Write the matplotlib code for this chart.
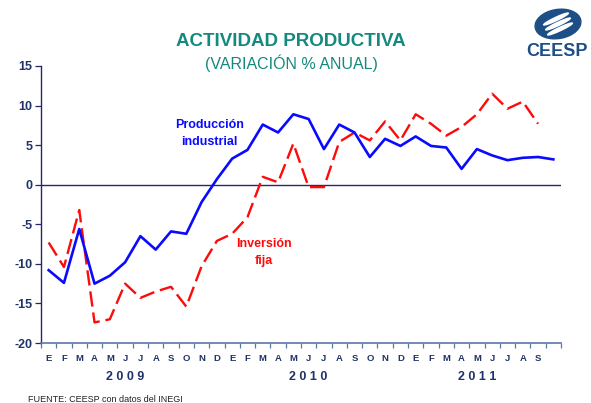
import matplotlib

matplotlib.use("Agg")

import matplotlib.pyplot as plt
import matplotlib.transforms as mtransforms
from matplotlib.patches import Ellipse
import numpy as np

plt.rcParams["font.family"] = ["Liberation Sans", "DejaVu Sans"]
plt.rcParams["axes.unicode_minus"] = False


MONTH_LABELS = (
    ["E", "F", "M", "A", "M", "J", "J", "A", "S", "O", "N", "D"] * 2
    + ["E", "F", "M", "A", "M", "J", "J", "A", "S", ""]
)
YEARS = ["2 0 0 9", "2 0 1 0", "2 0 1 1"]
YEAR_POS = [5.5, 17.5, 28.5]

# Producción industrial, ene-2009 .. oct-2011
produccion = [
    -10.8, -12.4, -5.6, -12.5, -11.5, -9.8, -6.5, -8.2, -5.9, -6.2, -2.2, 0.7,
    3.3, 4.4, 7.6, 6.6, 8.9, 8.3, 4.5, 7.6, 6.6, 3.5, 5.8, 4.9,
    6.1, 4.9, 4.7, 2.0, 4.5, 3.7, 3.1, 3.4, 3.5, 3.2,
]
# Inversión fija, ene-2009 .. sep-2011
inversion = [
    -7.3, -10.4, -3.2, -17.4, -17.0, -12.5, -14.3, -13.5, -12.9, -15.4, -10.3, -7.1,
    -6.2, -4.1, 1.0, 0.3, 5.2, -0.3, -0.3, 5.4, 6.6, 5.6, 8.0, 5.6,
    8.9, 7.7, 6.2, 7.3, 8.9, 11.5, 9.6, 10.5, 7.7,
]

NAVY = "#1f3366"
TEAL = "#14897f"

fig = plt.figure(figsize=(5.91, 4.03), dpi=100)
ax = fig.add_axes([41 / 591, 1 - 343 / 403, 520 / 591, 277 / 403])

x_prod = np.arange(len(produccion)) + 0.5
x_inv = np.arange(len(inversion)) + 0.5

ax.axhline(0, color="#26266e", lw=1.0, zorder=1)
ax.plot(x_prod, produccion, color="#0a0aff", lw=1.9, zorder=3)
ax.plot(x_inv, inversion, color="#ff0a0a", lw=1.7, dashes=(6.5, 2.5), zorder=2)

ax.set_xlim(0, len(MONTH_LABELS))
ax.set_ylim(-20, 15)

ax.set_yticks(np.arange(-20, 16, 5))
ax.tick_params(axis="y", direction="out", length=4, width=0.9, color="#26266e",
               labelsize=9, labelcolor=NAVY, pad=2)
for lab in ax.get_yticklabels():
    lab.set_fontweight("bold")

ax.set_xticks(np.arange(0, len(MONTH_LABELS) + 1))
ax.set_xticklabels([])
ax.set_xticks(np.arange(len(MONTH_LABELS)) + 0.5, minor=True)
ax.set_xticklabels(MONTH_LABELS, minor=True, fontsize=6.8, fontweight="bold", color=NAVY)
ax.tick_params(axis="x", which="major", direction="out", length=3.5, width=0.9, color="#5a78a8")
ax.tick_params(axis="x", which="minor", length=0, pad=8)

for side in ["top", "right"]:
    ax.spines[side].set_visible(False)
ax.spines["left"].set_color("#26266e")
ax.spines["left"].set_linewidth(1.0)
ax.spines["bottom"].set_color("#5a78a8")
ax.spines["bottom"].set_linewidth(1.2)

trans = mtransforms.blended_transform_factory(ax.transData, fig.transFigure)
for year, pos in zip(YEARS, YEAR_POS):
    ax.text(pos, 1 - 377 / 403, year, transform=trans, ha="center", va="center",
            fontsize=9, fontweight="bold", color=NAVY)

ax.text(11.0, 7.5, "Producción", color="#0a0aff", fontsize=9, fontweight="bold",
        ha="center", va="center")
ax.text(11.0, 5.4, "industrial", color="#0a0aff", fontsize=9, fontweight="bold",
        ha="center", va="center")
ax.text(14.6, -7.5, "Inversión", color="#ff0a0a", fontsize=9, fontweight="bold",
        ha="center", va="center")
ax.text(14.6, -9.6, "fija", color="#ff0a0a", fontsize=9, fontweight="bold",
        ha="center", va="center")

fig.text(291 / 591, 1 - 42 / 403, "ACTIVIDAD PRODUCTIVA", ha="center", va="center",
         fontsize=13.5, fontweight="bold", color=TEAL)
fig.text(291 / 591, 1 - 63 / 403, "(VARIACIÓN % ANUAL)", ha="center", va="center",
         fontsize=11.5, color=TEAL)

fig.text(28 / 591, 1 - 400 / 403, "FUENTE: CEESP con datos del INEGI", ha="left",
         va="center", fontsize=6.5, color="#222222")

# logo
logo = Ellipse((558 / 591, 1 - 24 / 403), 48 / 591, 28 / 403, angle=35,
               transform=fig.transFigure, color="#1d4f86")
fig.patches.append(logo)
for dy in (-5, 0, 5):
    fig.patches.append(Ellipse((558 / 591 + dy * 0.4 / 591, 1 - (24 + dy) / 403),
                               30 / 591, 3 / 403, angle=35,
                               transform=fig.transFigure, color="white"))
fig.text(557 / 591, 1 - 51 / 403, "CEESP", ha="center", va="center", fontsize=13,
         fontweight="bold", color="#1d4f86")

fig.savefig("out.png", dpi=100)
